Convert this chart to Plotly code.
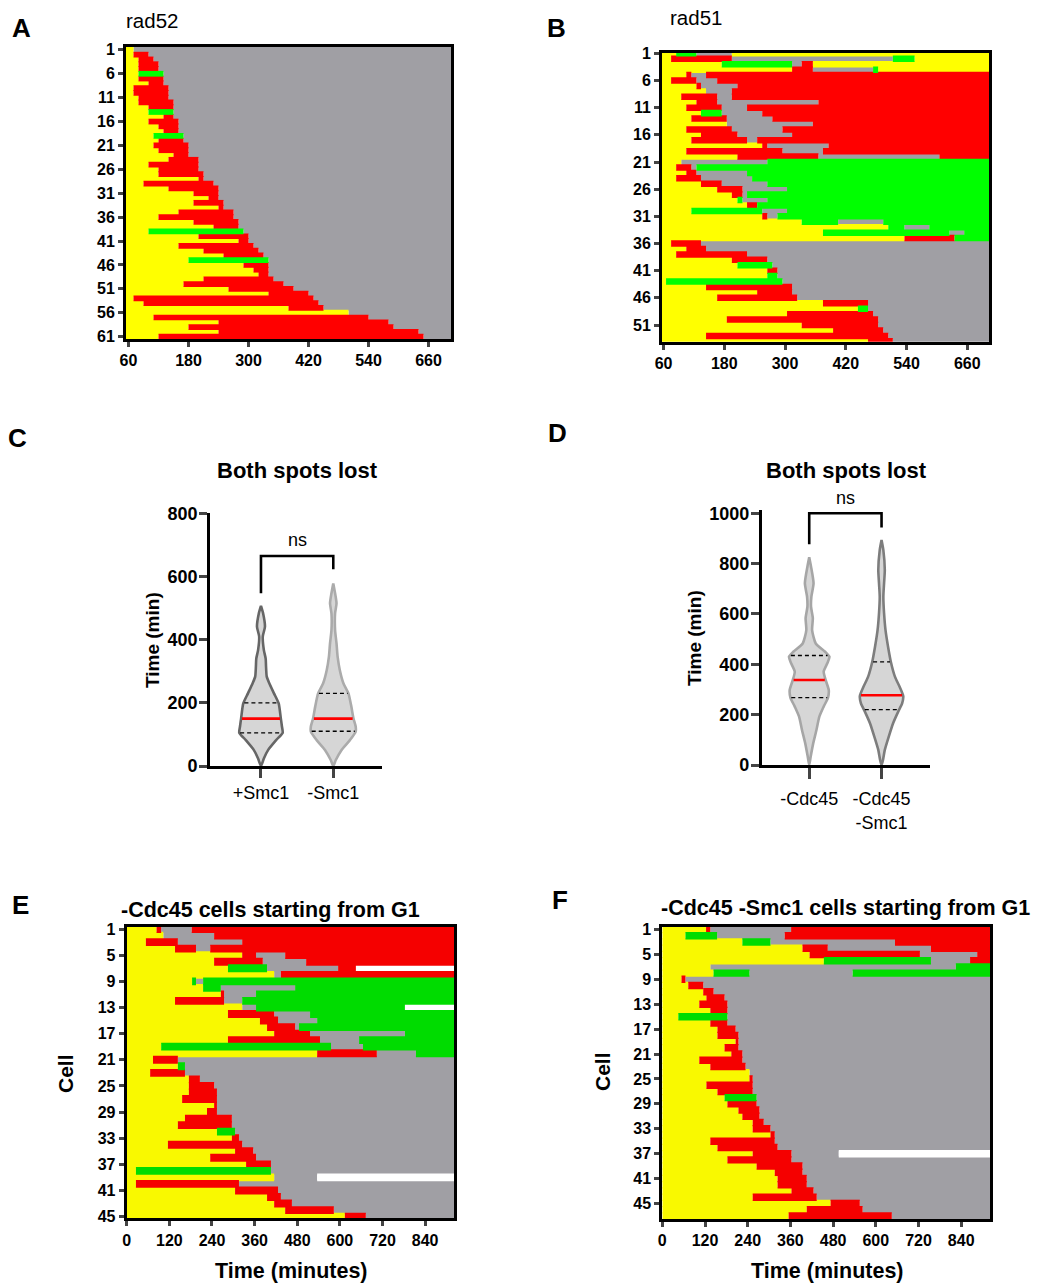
import numpy as np
import plotly.graph_objects as go

W, H = 1037, 1284
FONT = "Liberation Sans, Arial, sans-serif"

# ---------------- track data (state letter + end minute) ----------------
# Y = yellow, R = red, G = green, N = grey, W = white (no data); grey fills to movie end
A_START, A_END = 55, 705
A_ROWS = [
    "Y70", "Y70 R100", "Y80 R110", "Y80 R120", "Y80 R120", "Y80 G130", "Y80 R130",
    "Y100 R130", "Y70 R140", "Y70 R140", "Y80 R140", "Y80 R150", "Y100 R150",
    "Y100 G150", "Y130 R150", "Y100 R160", "Y120 R160", "Y130 R160", "Y110 G170",
    "Y120 R170", "Y110 R180", "Y120 R180", "Y150 R180", "Y140 R200", "Y100 R200",
    "Y120 R200", "Y120 R210", "Y200 R210", "Y90 R230", "Y140 R240", "Y190 R240",
    "Y220 R240", "Y190 R250", "Y240 R250", "Y160 R270", "Y120 R270", "Y190 R280",
    "Y230 R280", "Y100 G290", "Y200 R300", "Y280 R300", "Y160 R310", "Y210 R320",
    "Y250 R330", "Y180 G340", "Y290 R340", "Y310 R340", "Y320 R340", "Y210 R350",
    "Y170 R370", "Y260 R390", "Y340 R420", "Y70 R430", "Y90 R440", "Y380 R450",
    "Y500", "Y110 R540", "Y240 R580", "Y180 R590", "Y240 R640", "Y120 R650",
]

B_START, B_END = 57, 703
B_ROWS = [
    "Y85 G125 N195 Y703", "Y75 R195 N513 G556 Y703", "Y175 G314 N333 R355 Y703",
    "Y314 R355 N474 G484 Y703", "Y105 R115 N144 R703", "Y75 R125 N166 R703",
    "Y125 R134 N206 R703", "Y144 N195 R703", "Y95 R166 N195 R703",
    "Y125 R166 N366 R703", "Y105 R175 N225 R703", "Y134 G175 N255 R703",
    "Y115 R185 N275 R703", "Y185 N355 R703", "Y105 R195 N295 R703",
    "Y134 R206 N314 R703", "Y115 R225 N245 R703", "Y255 R265 N386 R703",
    "Y105 R295 N375 R703", "Y206 R366 N605 R703", "Y95 N265 G703",
    "Y85 R115 N125 G703", "Y105 R125 N225 G703", "Y85 R134 N235 G703",
    "Y134 R175 N265 G703", "Y166 R216 N304 G703", "Y195 R216 N225 G703",
    "Y206 G216 N265 G703", "Y225 R245 G703", "Y115 G255 N304 G703",
    "Y255 R265 N285 G703", "Y333 G405 N494 G703", "Y504 G536 N585 G703",
    "Y375 G625 N654 G703", "Y536 R635 G703", "Y75 R134", "Y105 R144", "Y85 R225",
    "Y195 R265", "Y206 G275", "Y265 R285", "Y265 G285", "Y65 G295", "Y144 R314",
    "Y245 R314", "Y166 R324", "Y375 R464", "Y444 G464", "Y304 R474", "Y185 R484",
    "Y333 R484", "Y395 R494", "Y144 R504", "Y464 R513",
]

E_START, E_END = 0, 922
E_ROWS = [
    "Y84 R97 N183 R922", "Y103 N246 R922", "Y54 R144 N325 R922", "Y136 R195 N235 R922",
    "Y325 R364 N446 R922", "Y246 R383 N505 R922", "Y285 G395 N595 R645 W922",
    "Y415 N434 R922", "Y184 G195 N215 G922", "Y215 G265 N474 G922",
    "Y265 R274 N364 G922", "Y136 R274 N325 G922", "Y325 N364 G783 W922",
    "Y285 R415 N516 G922", "Y375 R426 N536 G922", "Y395 R474 N485 G922",
    "Y415 R516 N783 G922", "Y285 R544 N654 G922", "Y97 G575 N665 G922",
    "Y536 R704 N814 G922", "Y74 R144", "Y144 G164", "Y66 R164", "Y175 R206",
    "Y175 R246", "Y175 R254", "Y156 R254", "Y246 R254", "Y226 R254", "Y164 R296",
    "Y144 R296", "Y254 G305", "Y296 R316", "Y116 R325", "Y305 R356", "Y235 R364",
    "Y336 R406", "Y26 G406", "Y415 N536 W922", "Y26 R316", "Y305 R426", "Y395 R434",
    "Y415 R465", "Y446 R583", "Y614 R673",
]

F_START, F_END = 0, 921
F_ROWS = [
    "Y123 R135 N362 R921", "Y65 G154 N344 R921", "Y225 G304 N654 R921",
    "Y394 R465 N755 R921", "Y414 R724 N885 R921", "Y454 G755 N865 R921",
    "Y135 N825 G921", "Y144 G245 N535 G921", "Y54 R65", "Y73 R115", "Y115 R144",
    "Y124 R175", "Y104 R183", "Y135 R183", "Y45 G183", "Y135 R183", "Y155 R206",
    "Y155 R214", "Y206 R214", "Y175 R214", "Y194 R225", "Y104 R225", "Y135 R234",
    "Y245", "Y245 R254", "Y124 R254", "Y155 R254", "Y175 G265", "Y183 R265",
    "Y214 R273", "Y225 R273", "Y254 R285", "Y254 R304", "Y304 R316", "Y135 R316",
    "Y155 R324", "Y254 R363 N496 W921", "Y183 R363", "Y265 R394", "Y316 R394",
    "Y324 R406", "Y324 R406", "Y363 R425", "Y254 R434", "Y473 R555", "Y406 R563",
    "Y355 R645",
]

A_XTICKS = [60, 180, 300, 420, 540, 660]
EF_XTICKS = [0, 120, 240, 360, 480, 600, 720, 840]

COL_AB = {"Y": "#FFFF00", "R": "#FF0000", "G": "#00FF00", "N": "#A09FA4", "W": "#FFFFFF"}
COL_EF = {"Y": "#F9F900", "R": "#F50000", "G": "#00DC00", "N": "#A09FA4", "W": "#FFFFFF"}

# ---------------- violin data (read outlines) ----------------
C_CATS = ["+Smc1", "-Smc1"]
C_V1_T = [0, 24, 51, 82, 105, 125, 150, 198, 230, 262, 283, 315, 340, 367, 410, 441, 483, 507]
C_V1_W = [0, 0.04, 0.10, 0.21, 0.30, 0.29, 0.275, 0.245, 0.18, 0.115, 0.08, 0.07, 0.065, 0.04, 0.025, 0.055, 0.03, 0]
C_V2_T = [0, 19, 51, 82, 109, 125, 150, 188, 230, 262, 304, 346, 388, 430, 483, 515, 547, 578]
C_V2_W = [0, 0.035, 0.115, 0.23, 0.31, 0.31, 0.28, 0.25, 0.21, 0.14, 0.09, 0.06, 0.045, 0.025, 0.025, 0.045, 0.025, 0]
C_Q1 = [105, 110]
C_MED = [150, 150]
C_Q3 = [200, 230]
C_BRACKET = [547, 665, 665, 623]
C_NS_Y = 716

D_CATS = ["-Cdc45", "-Cdc45<br>-Smc1"]
D_V1_T = [0, 33, 86, 139, 192, 232, 268, 298, 335, 371, 404, 430, 450, 483, 536, 583, 629, 669, 722, 788, 825]
D_V1_W = [0, 0.02, 0.055, 0.1, 0.14, 0.2, 0.26, 0.27, 0.23, 0.2, 0.25, 0.28, 0.22, 0.09, 0.04, 0.05, 0.025, 0.03, 0.06, 0.025, 0]
D_V2_T = [0, 20, 60, 113, 166, 218, 245, 274, 311, 351, 408, 470, 536, 603, 669, 722, 775, 854, 894]
D_V2_W = [0, 0.02, 0.045, 0.1, 0.16, 0.24, 0.285, 0.3, 0.25, 0.185, 0.13, 0.09, 0.055, 0.035, 0.025, 0.035, 0.045, 0.025, 0]
D_Q1 = [268, 220]
D_MED = [338, 277]
D_Q3 = [435, 410]
D_BRACKET = [877, 1000, 1000, 944]
D_NS_Y = 1062


def dx(a, b):
    return [a / W, b / W]


def dy(top, bottom):
    return [1 - bottom / H, 1 - top / H]


fig = go.Figure()


def add_tracks(rows, start, end, cols, xa, ya):
    data = {k: ([], [], []) for k in cols}
    for i, row in enumerate(rows, 1):
        pos = start
        for tok in row.split():
            s, e = tok[0], float(tok[1:])
            data[s][0].append(i)
            data[s][1].append(pos)
            data[s][2].append(e - pos)
            pos = e
        if pos < end:
            data["N"][0].append(i)
            data["N"][1].append(pos)
            data["N"][2].append(end - pos)
    for k in ["N", "W", "Y", "R", "G"]:
        ys, bs, ws = data[k]
        if not ys:
            continue
        fig.add_trace(go.Bar(orientation="h", y=ys, base=bs, x=ws, width=1.2,
                             marker=dict(color=cols[k], line=dict(width=0)),
                             xaxis=xa, yaxis=ya, showlegend=False, hoverinfo="skip"))


add_tracks(A_ROWS, A_START, A_END, COL_AB, "x", "y")
add_tracks(B_ROWS, B_START, B_END, COL_AB, "x2", "y2")
add_tracks(E_ROWS, E_START, E_END, COL_EF, "x5", "y5")
add_tracks(F_ROWS, F_START, F_END, COL_EF, "x6", "y6")


def add_violin(pos, T, Wd, q1, med, q3, edge, xa, ya):
    T = np.array(T, float)
    Wd = np.array(Wd, float)
    xs = list(pos + Wd) + list(pos - Wd[::-1])
    ys = list(T) + list(T[::-1])
    fig.add_trace(go.Scatter(x=xs, y=ys, mode="lines", fill="toself", fillcolor="#D6D6D6",
                             line=dict(color=edge, width=2.6, shape="spline", smoothing=0.6),
                             xaxis=xa, yaxis=ya, showlegend=False, hoverinfo="skip"))
    for q, col, dash, wdt in [(q1, "black", "4px,3px", 1.3), (q3, "black", "4px,3px", 1.3),
                              (med, "#FF0000", "solid", 2.6)]:
        hw = float(np.interp(q, T, Wd)) - 0.012
        fig.add_trace(go.Scatter(x=[pos - hw, pos + hw], y=[q, q], mode="lines",
                                 line=dict(color=col, width=wdt, dash=dash),
                                 xaxis=xa, yaxis=ya, showlegend=False, hoverinfo="skip"))


add_violin(0, C_V1_T, C_V1_W, C_Q1[0], C_MED[0], C_Q3[0], "#666666", "x3", "y3")
add_violin(1, C_V2_T, C_V2_W, C_Q1[1], C_MED[1], C_Q3[1], "#ABABAB", "x3", "y3")
add_violin(0, D_V1_T, D_V1_W, D_Q1[0], D_MED[0], D_Q3[0], "#A6A6A6", "x4", "y4")
add_violin(1, D_V2_T, D_V2_W, D_Q1[1], D_MED[1], D_Q3[1], "#7D7D7D", "x4", "y4")

for br, xa, ya in [(C_BRACKET, "x3", "y3"), (D_BRACKET, "x4", "y4")]:
    fig.add_trace(go.Scatter(x=[0, 0, 1, 1], y=br, mode="lines",
                             line=dict(color="black", width=2.6),
                             xaxis=xa, yaxis=ya, showlegend=False, hoverinfo="skip"))


def track_axes(xdom, ydom, xr, xt, yr, nrows, step, fs):
    xa = dict(domain=xdom, range=xr, tickvals=xt, ticks="outside", ticklen=5, tickwidth=3,
              showline=True, mirror=True, linewidth=3, linecolor="black", showgrid=False,
              zeroline=False, tickfont=dict(family=FONT, size=fs, color="black", weight="bold"),
              automargin=False)
    ya = dict(domain=ydom, range=yr, tickvals=list(range(1, nrows + 1, step)), ticks="outside",
              ticklen=5, tickwidth=3, showline=True, mirror=True, linewidth=3, linecolor="black",
              showgrid=False, zeroline=False, automargin=False,
              tickfont=dict(family=FONT, size=fs, color="black", weight="bold"))
    return xa, ya


xa1, ya1 = track_axes(dx(126, 451), dy(47, 339), [A_START, A_END], A_XTICKS, [61.5, 0.4], 61, 5, 16)
xa2, ya2 = track_axes(dx(662, 989), dy(52.7, 341.7), [B_START, B_END], A_XTICKS, [54.07, 0.88], 54, 5, 16)
xa5, ya5 = track_axes(dx(126.7, 454.3), dy(926.7, 1218.3), [E_START, E_END], EF_XTICKS, [45.26, 0.64], 45, 4, 16)
xa6, ya6 = track_axes(dx(662.3, 990), dy(926.7, 1219), [F_START, F_END], EF_XTICKS, [47.5, 0.54], 47, 4, 16)
xa1["anchor"], ya1["anchor"] = "y", "x"
xa2["anchor"], ya2["anchor"] = "y2", "x2"
xa5["anchor"], ya5["anchor"] = "y5", "x5"
xa6["anchor"], ya6["anchor"] = "y6", "x6"


def vio_axes(xdom, ydom, xr, yr, cats, yt, anchor_x, anchor_y, xtl):
    xa = dict(domain=xdom, range=xr, tickvals=[0, 1], ticktext=cats, ticks="outside", ticklen=xtl,
              tickwidth=2.6, showline=True, linewidth=2.6, linecolor="black", showgrid=False,
              zeroline=False, tickfont=dict(family=FONT, size=18, color="black"), anchor=anchor_y,
              automargin=False)
    ya = dict(domain=ydom, range=yr, tickvals=yt, ticks="outside", ticklen=8, tickwidth=2.6,
              showline=True, linewidth=2.6, linecolor="black", showgrid=False, zeroline=False,
              tickfont=dict(family=FONT, size=18, color="black", weight="bold"), anchor=anchor_x,
              automargin=False, ticklabelstandoff=-2)
    return xa, ya


C_YDOM = dy(513.3, 766)
D_YDOM = dy(510.3, 765)
C_YR = [0, 800]
D_YR = [0, 1012]
xa3, ya3 = vio_axes(dx(210, 382), C_YDOM, [-0.705, 1.674], C_YR, C_CATS,
                    [0, 200, 400, 600, 800], "x3", "y3", 9)
xa4, ya4 = vio_axes(dx(761.7, 930), D_YDOM, [-0.657, 1.67], D_YR, D_CATS,
                    [0, 200, 400, 600, 800, 1000], "x4", "y4", 11)
xa4["ticklabelstandoff"] = 5

ann = []


def txt(t, x, y, size, weight="normal", angle=0, ref=("paper", "paper")):
    if ref == ("paper", "paper"):
        x, y = x / W, 1 - y / H
    ann.append(dict(text=t, x=x, y=y, xref=ref[0], yref=ref[1], showarrow=False,
                    xanchor="center", yanchor="middle", textangle=angle,
                    font=dict(family=FONT, size=size, color="black", weight=weight)))


def paper_y(val, dom, rng):
    return dom[0] + (val - rng[0]) / (rng[1] - rng[0]) * (dom[1] - dom[0])


txt("A", 21, 28, 26, "bold")
txt("B", 556, 28, 26, "bold")
txt("C", 17, 438, 26, "bold")
txt("D", 557, 433, 26, "bold")
txt("E", 20, 905, 26, "bold")
txt("F", 560, 900, 26, "bold")
txt("rad52", 152, 21, 20.5)
txt("rad51", 696, 18, 20.5)
txt("Both spots lost", 297, 470, 22, "bold")
txt("Both spots lost", 846, 470, 22, "bold")
txt("Time (min)", 152, 640, 19, "bold", -90)
txt("Time (min)", 694, 638, 19, "bold", -90)
txt("ns", 0.5, paper_y(C_NS_Y, C_YDOM, C_YR), 18, ref=("x3", "paper"))
txt("ns", 0.5, paper_y(D_NS_Y, D_YDOM, D_YR), 18, ref=("x4", "paper"))
txt("-Cdc45 cells starting from G1", 270, 910, 21.5, "bold")
txt("-Cdc45 -Smc1 cells starting from G1", 845, 908, 21.5, "bold")
txt("Cell", 65, 1074, 21, "bold", -90)
txt("Cell", 602, 1072, 21, "bold", -90)
txt("Time (minutes)", 291, 1271, 21.5, "bold")
txt("Time (minutes)", 827, 1271, 21.5, "bold")

fig.update_layout(
    width=W, height=H, margin=dict(l=0, r=0, t=0, b=0, pad=0, autoexpand=False),
    paper_bgcolor="white", plot_bgcolor="white", barmode="overlay",
    font=dict(family=FONT, color="black"),
    xaxis=xa1, yaxis=ya1, xaxis2=xa2, yaxis2=ya2, xaxis3=xa3, yaxis3=ya3,
    xaxis4=xa4, yaxis4=ya4, xaxis5=xa5, yaxis5=ya5, xaxis6=xa6, yaxis6=ya6,
    annotations=ann, showlegend=False,
)

fig.write_html("out.html", config={"displayModeBar": False},
               post_script="document.body.style.margin='0px';")
